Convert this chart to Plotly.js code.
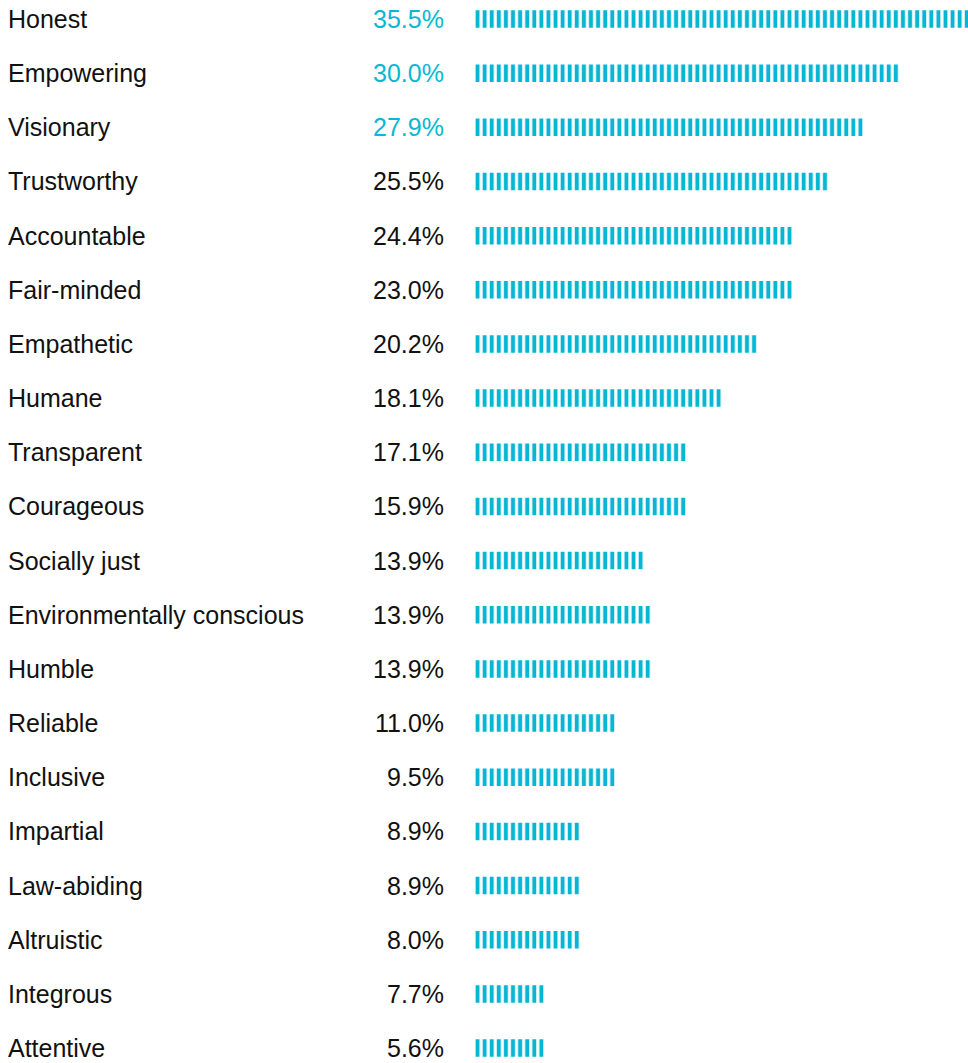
<!DOCTYPE html>
<html>
<head>
<meta charset="utf-8">
<script src="https://cdn.plot.ly/plotly-3.0.1.min.js"></script>
<style>
  html, body { margin: 0; padding: 0; background: #ffffff; }
  #chart { width: 968px; height: 1063px; }
</style>
</head>
<body>
<div id="chart"></div>
<script>
// ---- data ----
const categories = ['Honest','Empowering','Visionary','Trustworthy','Accountable','Fair-minded','Empathetic','Humane','Transparent','Courageous','Socially just','Environmentally conscious','Humble','Reliable','Inclusive','Impartial','Law-abiding','Altruistic','Integrous','Attentive'];
const shareLabels = [35.5, 30.0, 27.9, 25.5, 24.4, 23.0, 20.2, 18.1, 17.1, 15.9, 13.9, 13.9, 13.9, 11.0, 9.5, 8.9, 8.9, 8.0, 7.7, 5.6];
// bar lengths as drawn in the reference (percent, one tick per 0.5%)
const barLengths = [35.5, 30, 27.5, 25, 22.5, 22.5, 20, 17.5, 15, 15, 12, 12.5, 12.5, 10, 10, 7.5, 7.5, 7.5, 5, 5];
const highlighted = ['Honest', 'Empowering', 'Visionary'];

// ---- styling ----
const CYAN = '#08b8d3';
const TICK = '#06b6d2';
const W = 968, H = 1063;
const ML = 474;
const pxPerPct = 14.18;
const plotW = W - ML;
const rowPx = 54.16, firstRowPx = 19;
const r0 = -firstRowPx / rowPx;
const r1 = r0 + H / rowPx;
const FONT = 'Liberation Sans, Arial, sans-serif';
const FSIZE = 25;

const trace = {
  type: 'bar',
  orientation: 'h',
  y: categories,
  x: barLengths,
  marker: {
    color: '#ffffff',
    line: { width: 0 },
    pattern: { shape: '|', size: 0.5 * pxPerPct, solidity: 0.56, fgcolor: TICK, fgopacity: 1, bgcolor: '#ffffff', fillmode: 'overlay' }
  },
  hoverinfo: 'skip',
  cliponaxis: true
};

const annotations = [];
categories.forEach((c, i) => {
  annotations.push({
    xref: 'paper', yref: 'y', x: (6 - ML) / plotW, y: c,
    xanchor: 'left', yanchor: 'middle', showarrow: false,
    text: c, font: { family: FONT, size: FSIZE, color: '#111111' }
  });
  annotations.push({
    xref: 'paper', yref: 'y', x: (446 - ML) / plotW, y: c,
    xanchor: 'right', yanchor: 'middle', showarrow: false,
    text: shareLabels[i].toFixed(1) + '%',
    font: { family: FONT, size: FSIZE, color: highlighted.includes(c) ? CYAN : '#111111' }
  });
});

const layout = {
  width: W, height: H,
  margin: { l: ML, r: 0, t: 0, b: 0, pad: 0 },
  paper_bgcolor: '#ffffff', plot_bgcolor: '#ffffff',
  showlegend: false,
  bargap: 0.677,
  xaxis: { range: [0, plotW / pxPerPct], showgrid: false, zeroline: false, showticklabels: false, showline: false, ticks: '' },
  yaxis: { type: 'category', range: [r1, r0], showgrid: false, zeroline: false, showticklabels: false, showline: false, ticks: '' },
  annotations: annotations
};

Plotly.newPlot('chart', [trace], layout, { displayModeBar: false, staticPlot: true });
</script>
</body>
</html>
